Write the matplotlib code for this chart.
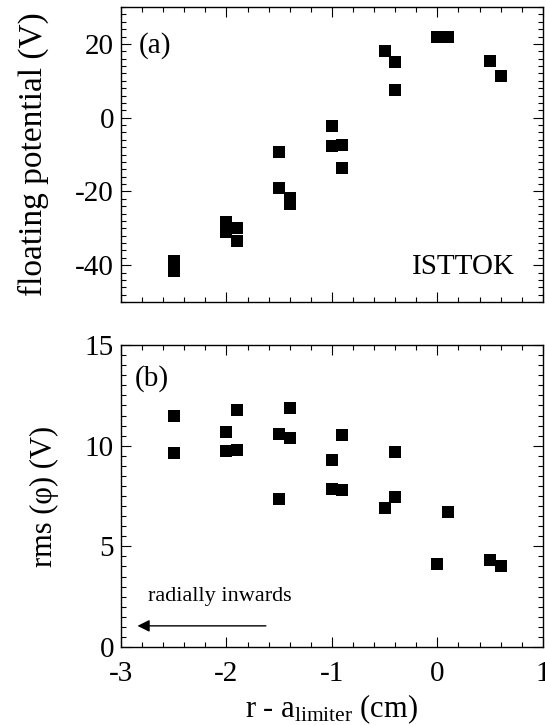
import matplotlib
matplotlib.use("Agg")
import matplotlib.pyplot as plt
from matplotlib.ticker import MultipleLocator

plt.rcParams['font.family'] = ['Liberation Serif', 'DejaVu Serif']
plt.rcParams['mathtext.fontset'] = 'custom'
plt.rcParams['mathtext.rm'] = 'Liberation Serif'
plt.rcParams['mathtext.it'] = 'Liberation Serif:italic'
plt.rcParams['axes.unicode_minus'] = False

# Panel (a): floating potential vs r - a_limiter
x_a = [-2.5, -2.5, -2.0, -2.0, -2.0, -1.9, -1.9, -1.5, -1.5, -1.4, -1.4,
       -1.0, -1.0, -0.9, -0.9, -0.5, -0.4, -0.4, 0.0, 0.1, 0.5, 0.6]
y_a = [-39.0, -41.5, -28.3, -30.3, -31.0, -30.0, -33.5, -9.2, -19.2, -21.9, -23.3,
       -2.2, -7.6, -7.5, -13.7, 18.0, 15.0, 7.6, 21.8, 21.8, 15.3, 11.3]

# Panel (b): rms(phi) vs r - a_limiter
x_b = [-2.5, -2.5, -2.0, -2.0, -1.9, -1.9, -1.5, -1.5, -1.4, -1.4,
       -1.0, -1.0, -0.9, -0.9, -0.5, -0.4, -0.4, 0.0, 0.1, 0.5, 0.6]
y_b = [11.47, 9.65, 10.7, 9.75, 11.77, 9.81, 10.58, 7.36, 11.87, 10.36,
       9.28, 7.84, 10.51, 7.79, 6.93, 9.67, 7.46, 4.11, 6.73, 4.3, 4.01]

xticks = [-3, -2, -1, 0, 1]
xticklabels = ['-3', '-2', '-1', '0', '1']
yticks_a = [-40, -20, 0, 20]
yticks_b = [0, 5, 10, 15]

fig = plt.figure(figsize=(5.45, 7.25), dpi=100)
ax1 = fig.add_axes([0.222, 0.5834, 0.774, 0.4069])
ax2 = fig.add_axes([0.222, 0.1076, 0.774, 0.4164])

FS = 21
for ax in (ax1, ax2):
    ax.set_xlim(-3, 1)
    ax.set_xticks(xticks)
    ax.xaxis.set_minor_locator(MultipleLocator(0.2))
    ax.tick_params(which='both', direction='in', top=True, right=True,
                   labelsize=FS, width=0.8)
    ax.tick_params(which='major', length=7, pad=5)
    ax.tick_params(which='minor', length=3.5)
    for s in ax.spines.values():
        s.set_linewidth(1.0)

ax1.scatter(x_a, y_a, marker='s', s=72, color='black', linewidths=0)
ax1.set_ylim(-50, 30)
ax1.set_yticks(yticks_a)
ax1.yaxis.set_minor_locator(MultipleLocator(2))
ax1.set_xticklabels([])
ax1.set_ylabel('floating potential (V)', fontsize=24)
ax1.yaxis.set_label_coords(-0.17, 0.5)
ax1.text(-2.83, 19.5, '(a)', fontsize=FS, va='center', ha='left')
ax1.text(0.74, -40.4, 'ISTTOK', fontsize=FS, va='center', ha='right')

ax2.scatter(x_b, y_b, marker='s', s=72, color='black', linewidths=0)
ax2.set_ylim(0, 15)
ax2.set_yticks(yticks_b)
ax2.yaxis.set_minor_locator(MultipleLocator(0.5))
ax2.set_xticklabels(xticklabels)
ax2.tick_params(axis='x', which='major', pad=10)
ax2.set_ylabel('rms (\u03c6) (V)', fontsize=22)
ax2.yaxis.set_label_coords(-0.148, 0.5)
ax2.set_xlabel(r'r - a$_{\mathrm{limiter}}$ (cm)', fontsize=22, labelpad=4)
ax2.text(-2.87, 13.35, '(b)', fontsize=FS, va='center', ha='left')
ax2.text(-2.74, 2.5, 'radially inwards', fontsize=16, va='center', ha='left')
ax2.annotate('', xy=(-2.87, 1.05), xytext=(-1.6, 1.05),
             arrowprops=dict(arrowstyle='-|>', color='black', lw=1.0,
                             mutation_scale=18))

fig.savefig('out.png', dpi=100)
